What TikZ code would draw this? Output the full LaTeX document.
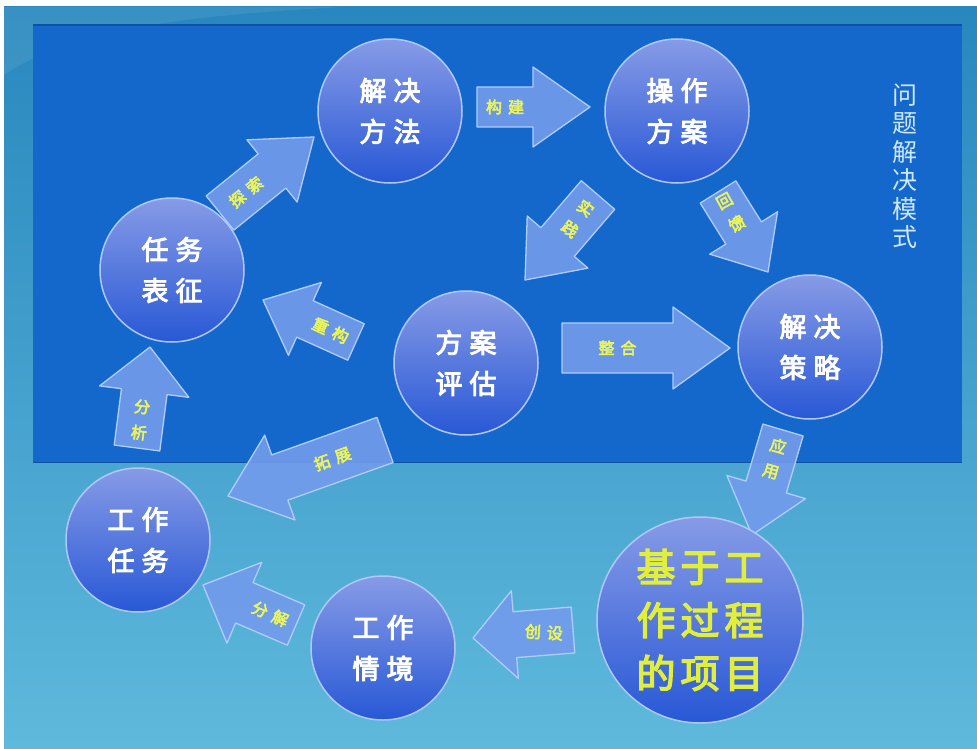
\documentclass[tikz,border=0pt]{standalone}
\usepackage{fontspec}
\newfontfamily\cjk{Noto Sans CJK SC}
\newfontfamily\cjkb{Noto Sans CJK SC}[FakeBold=3.5]
\usetikzlibrary{calc}
\definecolor{tealtop}{RGB}{40,135,190}
\definecolor{tealbot}{RGB}{95,185,220}
\definecolor{panel}{RGB}{20,104,204}
\definecolor{paneledge}{RGB}{15,80,165}
\definecolor{balltop}{RGB}{135,155,230}
\definecolor{ballbot}{RGB}{40,88,214}
\definecolor{ballrim}{RGB}{175,200,250}
\definecolor{arrfill}{RGB}{115,155,235}
\definecolor{arredge}{RGB}{175,205,250}
\definecolor{labyellow}{RGB}{235,245,90}
\definecolor{bigyellow}{RGB}{225,238,60}
\definecolor{titlec}{RGB}{205,232,250}
\tikzset{
  ball/.style={circle, minimum size=144pt, inner sep=0pt, top color=balltop, bottom color=ballbot,
    draw=ballrim, line width=1.5pt, text=white, align=center,
    font=\cjkb\fontsize{27}{41}\selectfont},
  bigball/.style={ball, minimum size=206pt, text=bigyellow,
    font=\cjkb\fontsize{39}{53}\selectfont},
  arrowsty/.style={fill=arrfill, fill opacity=0.9, draw=arredge, line width=1.3pt, line join=round},
  lab/.style={text=labyellow, inner sep=0pt, align=center, font=\cjkb\fontsize{16}{21}\selectfont},
}
\newcommand\barrow[5]{%
  \coordinate (#1-h) at ($(#2)!#5pt!(#1)$);
  \filldraw[arrowsty] ($(#1)!#3pt!90:(#2)$) -- ($(#1-h)!#3pt!90:(#2)$) -- ($(#1-h)!#4pt!90:(#2)$)
    -- (#2) -- ($(#1-h)!#4pt!-90:(#2)$) -- ($(#1-h)!#3pt!-90:(#2)$) -- ($(#1)!#3pt!-90:(#2)$) -- cycle;
}
\begin{document}
\begin{tikzpicture}[x=1pt,y=-1pt]
\useasboundingbox (0,0) rectangle (977,749);
\fill[white] (0,0) rectangle (977,749);
\shade[top color=tealtop, bottom color=tealbot] (4,7) rectangle (977,749);
\fill[white, opacity=0.08] (4,7) -- (340,7) .. controls (230,14) and (80,22) .. (4,75) -- cycle;
\fill[panel] (33,25) rectangle (962,462);
\draw[paneledge, line width=1.2pt] (33,25) -- (962,25);
\draw[paneledge, line width=1pt] (33,462) -- (962,462);

% arrows
\coordinate (a1) at (220,213); \coordinate (b1) at (314,137);
\coordinate (a2) at (477,107); \coordinate (b2) at (590,107);
\coordinate (a3) at (598,195); \coordinate (b3) at (525,280);
\coordinate (a4) at (718,192); \coordinate (b4) at (768,272);
\coordinate (a5) at (356,342); \coordinate (b5) at (263,300);
\coordinate (a6) at (562,348); \coordinate (b6) at (730,348);
\coordinate (a7) at (137,448); \coordinate (b7) at (150,347);
\coordinate (a8) at (385,440); \coordinate (b8) at (228,496);
\coordinate (a9) at (783,430); \coordinate (b9) at (752,535);
\coordinate (a10) at (573,630); \coordinate (b10) at (473,638);
\coordinate (a11) at (296,625); \coordinate (b11) at (203,585);

\barrow{a1}{b1}{22}{40}{54}
\barrow{a2}{b2}{20}{40}{57}
\barrow{a3}{b3}{22}{40}{50}
\barrow{a4}{b4}{21}{40}{46}
\barrow{a5}{b5}{20}{40}{46}
\barrow{a6}{b6}{25}{41}{57}
\barrow{a7}{b7}{23}{45}{45}
\barrow{a8}{b8}{24}{45}{55}
\barrow{a9}{b9}{21}{41}{50}
\barrow{a10}{b10}{23}{44}{42}
\barrow{a11}{b11}{22}{44}{45}

\node[lab, rotate=39] (l1) at ($(a1)!0.5!(a1-h)$) {探\hspace{6pt}索};
\node[lab] (l2) at ($(a2)!0.5!(a2-h)$) {构\hspace{6pt}建};
\node[lab, rotate=-37] (l3) at ($(a3)!0.5!(a3-h)$) {实\\[5pt]践};
\node[lab, rotate=29] (l4) at ($(a4)!0.5!(a4-h)$) {回\\[5pt]馈};
\node[lab, rotate=-25] (l5) at ($(a5)!0.5!(a5-h)$) {重\hspace{6pt}构};
\node[lab] (l6) at ($(a6)!0.5!(a6-h)$) {整\hspace{6pt}合};
\node[lab, rotate=-7] (l7) at ($(a7)!0.5!(a7-h)$) {分\\[5pt]析};
\node[lab, rotate=20] (l8) at ($(a8)!0.5!(a8-h)$) {拓\hspace{6pt}展};
\node[lab, rotate=-16] (l9) at ($(a9)!0.5!(a9-h)$) {应\\[5pt]用};
\node[lab, rotate=-4] (l10) at ($(a10)!0.5!(a10-h)$) {创\hspace{6pt}设};
\node[lab, rotate=-24] (l11) at ($(a11)!0.5!(a11-h)$) {分\hspace{6pt}解};

% circles
\node[ball] (fangfa) at (390,111) {解\hspace{7pt}决\\方\hspace{7pt}法};
\node[ball] (caozuo) at (677,111) {操\hspace{7pt}作\\方\hspace{7pt}案};
\node[ball] (biaozheng) at (172,270) {任\hspace{7pt}务\\表\hspace{7pt}征};
\node[ball] (pinggu) at (466,363) {方\hspace{7pt}案\\评\hspace{7pt}估};
\node[ball] (celue) at (810,347) {解\hspace{7pt}决\\策\hspace{7pt}略};
\node[ball] (renwu) at (138,540) {工\hspace{7pt}作\\任\hspace{7pt}务};
\node[ball] (qingjing) at (383,648) {工\hspace{7pt}作\\情\hspace{7pt}境};
\node[bigball] (xiangmu) at (700,620) {基\hspace{5pt}于\hspace{5pt}工\\作\hspace{5pt}过\hspace{5pt}程\\的\hspace{5pt}项\hspace{5pt}目};

% title
\node[text=titlec, align=center, inner sep=0pt, font=\cjk\fontsize{25}{28.5}\selectfont] (title) at (905,166) {问\\题\\解\\决\\模\\式};
\end{tikzpicture}
\end{document}
